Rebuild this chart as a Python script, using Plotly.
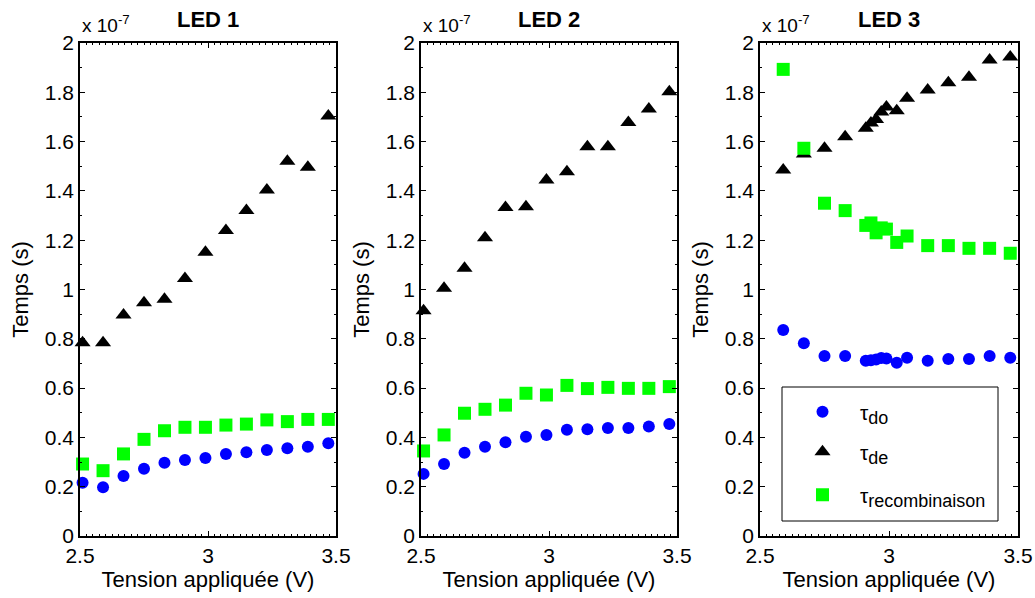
import plotly.graph_objects as go

# ---------------- data (values in units of 1e-7 s) ----------------
x_led12 = [2.51, 2.59, 2.67, 2.75, 2.83, 2.91, 2.99, 3.07, 3.15, 3.23, 3.31, 3.39, 3.47]

led1_do = [0.216, 0.198, 0.243, 0.273, 0.297, 0.308, 0.316, 0.333, 0.340, 0.349, 0.356, 0.362, 0.376]
led1_de = [0.784, 0.784, 0.897, 0.946, 0.960, 1.045, 1.151, 1.239, 1.320, 1.404, 1.520, 1.496, 1.704]
led1_rec = [0.292, 0.265, 0.333, 0.392, 0.427, 0.441, 0.441, 0.450, 0.454, 0.471, 0.464, 0.473, 0.473]

led2_do = [0.252, 0.292, 0.338, 0.362, 0.380, 0.403, 0.410, 0.431, 0.433, 0.438, 0.438, 0.444, 0.454]
led2_de = [0.914, 1.005, 1.086, 1.210, 1.333, 1.336, 1.444, 1.478, 1.579, 1.579, 1.677, 1.732, 1.802]
led2_rec = [0.345, 0.410, 0.498, 0.514, 0.531, 0.579, 0.572, 0.611, 0.598, 0.603, 0.599, 0.599, 0.606]

x_led3 = [2.59, 2.67, 2.75, 2.83, 2.91, 2.93, 2.95, 2.97, 2.99, 3.03, 3.07, 3.15, 3.23, 3.31, 3.39, 3.47]
led3_do = [0.836, 0.782, 0.730, 0.730, 0.711, 0.713, 0.716, 0.722, 0.720, 0.703, 0.723, 0.711, 0.718, 0.718, 0.730, 0.723]
led3_de = [1.485, 1.550, 1.573, 1.620, 1.654, 1.675, 1.690, 1.720, 1.740, 1.725, 1.776, 1.809, 1.839, 1.861, 1.931, 1.943]
led3_rec = [1.893, 1.573, 1.350, 1.320, 1.260, 1.270, 1.230, 1.250, 1.245, 1.191, 1.217, 1.178, 1.178, 1.167, 1.167, 1.147]

panel_titles = ["LED 1", "LED 2", "LED 3"]
series_base = "τ"
series_subs = ["do", "de", "recombinaison"]
x_title = "Tension appliquée (V)"
y_title = "Temps (s)"
scale_text = "x 10<sup>-7</sup>"

# ---------------- styling ----------------
W, H = 1035, 598
FONT = "Liberation Sans, Arial, sans-serif"
styles = [
    dict(symbol="circle", color="#0000FF", size=12),
    dict(symbol="triangle-up", color="#000000", size=14),
    dict(symbol="square", color="#00FF00", size=13),
]
domains_px = [(80, 336), (421, 677), (760, 1018)]
y_top_px, y_bot_px = 43, 536
legend_box_px = (782, 387, 998, 521)
legend_rows_px = [412, 452, 495]
legend_ids = ["legend", "legend2", "legend3"]

panels = [
    (x_led12, [led1_do, led1_de, led1_rec]),
    (x_led12, [led2_do, led2_de, led2_rec]),
    (x_led3, [led3_do, led3_de, led3_rec]),
]

fig = go.Figure()
for p, (xs, ys_list) in enumerate(panels):
    xa = "x" if p == 0 else f"x{p+1}"
    ya = "y" if p == 0 else f"y{p+1}"
    for s, ys in enumerate(ys_list):
        st = styles[s]
        name = f'{series_base}<sub><span style="font-size:18px">{series_subs[s]}</span></sub>'
        fig.add_trace(go.Scatter(
            x=xs, y=ys, mode="markers", xaxis=xa, yaxis=ya,
            name=name, legend=legend_ids[s],
            showlegend=(p == 2),
            cliponaxis=False,
            marker=dict(symbol=st["symbol"], color=st["color"], size=st["size"],
                        line=dict(width=0)),
            hoverinfo="skip",
        ))

lx0, ly0, lx1, ly1 = legend_box_px
layout = dict(
    width=W, height=H,
    margin=dict(l=0, r=0, t=0, b=0),
    paper_bgcolor="white", plot_bgcolor="white",
    font=dict(family=FONT, size=21, color="black"),
    showlegend=True,
    shapes=[dict(type="rect", xref="paper", yref="paper",
                 x0=lx0 / W, x1=lx1 / W, y0=1 - ly1 / H, y1=1 - ly0 / H,
                 line=dict(color="black", width=1), fillcolor="white", layer="above")],
    annotations=[],
)
for s, lid in enumerate(legend_ids):
    layout[lid] = dict(
        x=(lx0 + 3) / W, y=1 - legend_rows_px[s] / H, xanchor="left", yanchor="middle",
        bgcolor="rgba(0,0,0,0)", borderwidth=0,
        font=dict(family=FONT, size=21, color="black"),
        itemwidth=65,
    )

y0 = 1 - y_bot_px / H
y1 = 1 - y_top_px / H
for p, (a, b) in enumerate(domains_px):
    xk = "xaxis" if p == 0 else f"xaxis{p+1}"
    yk = "yaxis" if p == 0 else f"yaxis{p+1}"
    xa = "x" if p == 0 else f"x{p+1}"
    ya = "y" if p == 0 else f"y{p+1}"
    layout[xk] = dict(
        domain=[a / W, b / W], anchor=ya, range=[2.5, 3.5], dtick=0.5,
        showgrid=False, zeroline=False, showline=True, linecolor="black", linewidth=1.5,
        mirror="ticks", ticks="inside", ticklen=5, tickcolor="black", tickwidth=1,
        minor=dict(dtick=0.025, ticks="inside", ticklen=2, tickcolor="black", showgrid=False),
        tickfont=dict(size=21), layer="above traces",
        title=dict(text=x_title, font=dict(size=22), standoff=4),
        automargin=False, fixedrange=True,
    )
    layout[yk] = dict(
        domain=[y0, y1], anchor=xa, range=[0, 2], dtick=0.2,
        showgrid=False, zeroline=False, showline=True, linecolor="black", linewidth=1.5,
        mirror="ticks", ticks="inside", ticklen=5, tickcolor="black", tickwidth=1,
        minor=dict(dtick=0.1, ticks="inside", ticklen=2, tickcolor="black", showgrid=False),
        tickfont=dict(size=21), layer="above traces",
        title=dict(text=y_title, font=dict(size=22), standoff=10),
        automargin=False, fixedrange=True,
    )
    layout["annotations"].append(dict(
        text=f"<b>{panel_titles[p]}</b>", x=(a + b) / 2 / W, y=1 - 20 / H,
        xref="paper", yref="paper", xanchor="center", yanchor="middle",
        showarrow=False, font=dict(size=22, family=FONT),
    ))
    layout["annotations"].append(dict(
        text=scale_text, x=(a + 0) / W, y=1 - 38 / H,
        xref="paper", yref="paper", xanchor="left", yanchor="bottom",
        showarrow=False, font=dict(size=19, family=FONT),
    ))

fig.update_layout(**layout)
fig.write_html("out.html", config={"displayModeBar": False},
               post_script="document.body.style.margin='0';document.body.style.overflow='hidden';")
